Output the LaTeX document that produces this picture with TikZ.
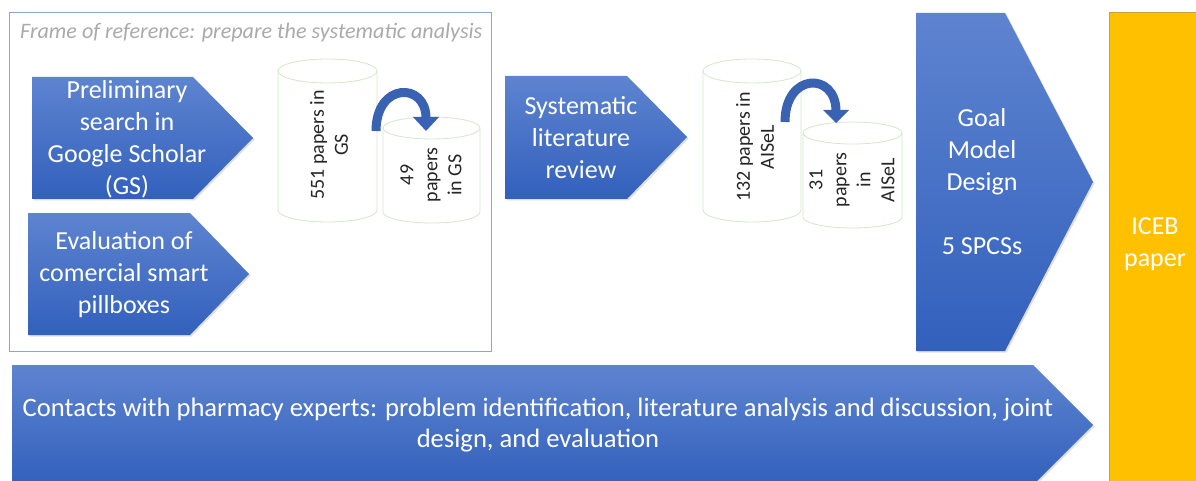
\documentclass[tikz,border=0pt]{standalone}
\usepackage{fontspec}
\setmainfont{Carlito}
\usetikzlibrary{shadows}
\definecolor{btop}{RGB}{94,132,208}
\definecolor{bbot}{RGB}{50,96,188}
\definecolor{frameblue}{RGB}{140,165,215}
\definecolor{cylline}{RGB}{210,232,200}
\definecolor{gold}{RGB}{255,192,0}
\definecolor{golddark}{RGB}{205,160,50}
\definecolor{arrowblue}{RGB}{58,98,178}
\definecolor{titlegray}{RGB}{170,170,170}
\tikzset{
  penta/.style={top color=btop, bottom color=bbot, drop shadow={shadow xshift=1.5pt, shadow yshift=-1.5pt, opacity=0.25}},
  wtext/.style={text=white, align=center, font=\fontsize{26}{32}\selectfont, inner sep=0pt},
  cyl/.style={draw=cylline, line width=0.8pt, fill=white},
  cyltext/.style={text={black!85}, align=center, rotate=90, font=\fontsize{20}{24}\selectfont, inner sep=0pt},
  curvearrow/.style={draw=arrowblue, line width=9pt},
  arrowhead/.style={fill=arrowblue},
}
\begin{document}
\begin{tikzpicture}[x=1pt,y=-1pt]
\useasboundingbox (0,0) rectangle (1196,481);
\fill[white] (0,0) rectangle (1196,481);

% frame
\draw[frameblue, line width=1pt] (9,13) rectangle (491,351);
\node[anchor=west, text=titlegray, font=\fontsize{22.1}{24}\selectfont\itshape, inner sep=0pt] (title) at (20,33) {Frame of reference: prepare the systematic analysis};

% pentagons
\shade[penta] (32,77) -- (193,77) -- (253,138) -- (193,199) -- (32,199) -- cycle;
\node[wtext] (prelim) at (127,139) {Preliminary\\search in\\Google Scholar\\(GS)};
\shade[penta] (28,213) -- (190,213) -- (249,274) -- (190,335) -- (28,335) -- cycle;
\node[wtext] (eval) at (124,275) {Evaluation of\\comercial smart\\pillboxes};
\shade[penta] (505,76) -- (627,76) -- (687,137) -- (627,199) -- (505,199) -- cycle;
\node[wtext] (slr) at (581,138) {Systematic\\literature\\review};
\shade[penta] (916,13) -- (1005,13) -- (1093,182) -- (1005,351) -- (916,351) -- cycle;
\node[wtext] (goal) at (982,182) {Goal\\Model\\Design\\[32pt]5 SPCSs};
\shade[penta] (12,365) -- (1033,365) -- (1093,425) -- (1033,485) -- (12,485) -- cycle;
\node[wtext, font=\fontsize{26.6}{31}\selectfont] (contacts) at (538,425) {Contacts with pharmacy experts: problem identification, literature analysis and discussion, joint\\design, and evaluation};

% ICEB
\draw[golddark, fill=gold, line width=1pt] (1109,13) rectangle (1205,490);
\node[wtext] (iceb) at (1155,244) {ICEB\\paper};

% cylinders
\draw[cyl] (278,71) -- (278,210) arc[start angle=180, end angle=360, x radius=49.5pt, y radius=12pt] -- (377,71);
\draw[cyl] (327.5,71) ellipse[x radius=49.5pt, y radius=12pt];
\node[cyltext] (c1) at (329,145) {551 papers in\\GS};

\draw[cyl] (383,128) -- (383,212) arc[start angle=180, end angle=360, x radius=48.5pt, y radius=11pt] -- (480,128);
\draw[cyl] (431.5,128) ellipse[x radius=48.5pt, y radius=11pt];
\node[cyltext] (c2) at (431,175) {49\\papers\\in GS};

\draw[cyl] (703,71) -- (703,210) arc[start angle=180, end angle=360, x radius=49pt, y radius=12pt] -- (801,71);
\draw[cyl] (752,71) ellipse[x radius=49pt, y radius=12pt];
\node[cyltext] (c3) at (755,147) {132 papers in\\AISeL};

\draw[cyl] (803,133) -- (803,217) arc[start angle=180, end angle=360, x radius=49.5pt, y radius=11pt] -- (902,133);
\draw[cyl] (852.5,133) ellipse[x radius=49.5pt, y radius=11pt];
\node[cyltext] (c4) at (852,180) {31\\papers\\in\\AISeL};

% curved arrows
\coordinate (a1s) at (376,131);
\coordinate (a1e) at (426,118);
\draw[curvearrow] (a1s) .. controls (376,82) and (426,82) .. (a1e);
\fill[arrowhead] (413,117) -- (439,117) -- (426,131) -- cycle;

\coordinate (a2s) at (785,122);
\coordinate (a2e) at (836,111);
\draw[curvearrow] (a2s) .. controls (785,72) and (836,72) .. (a2e);
\fill[arrowhead] (823,110) -- (849,110) -- (836,123) -- cycle;
\end{tikzpicture}
\end{document}
